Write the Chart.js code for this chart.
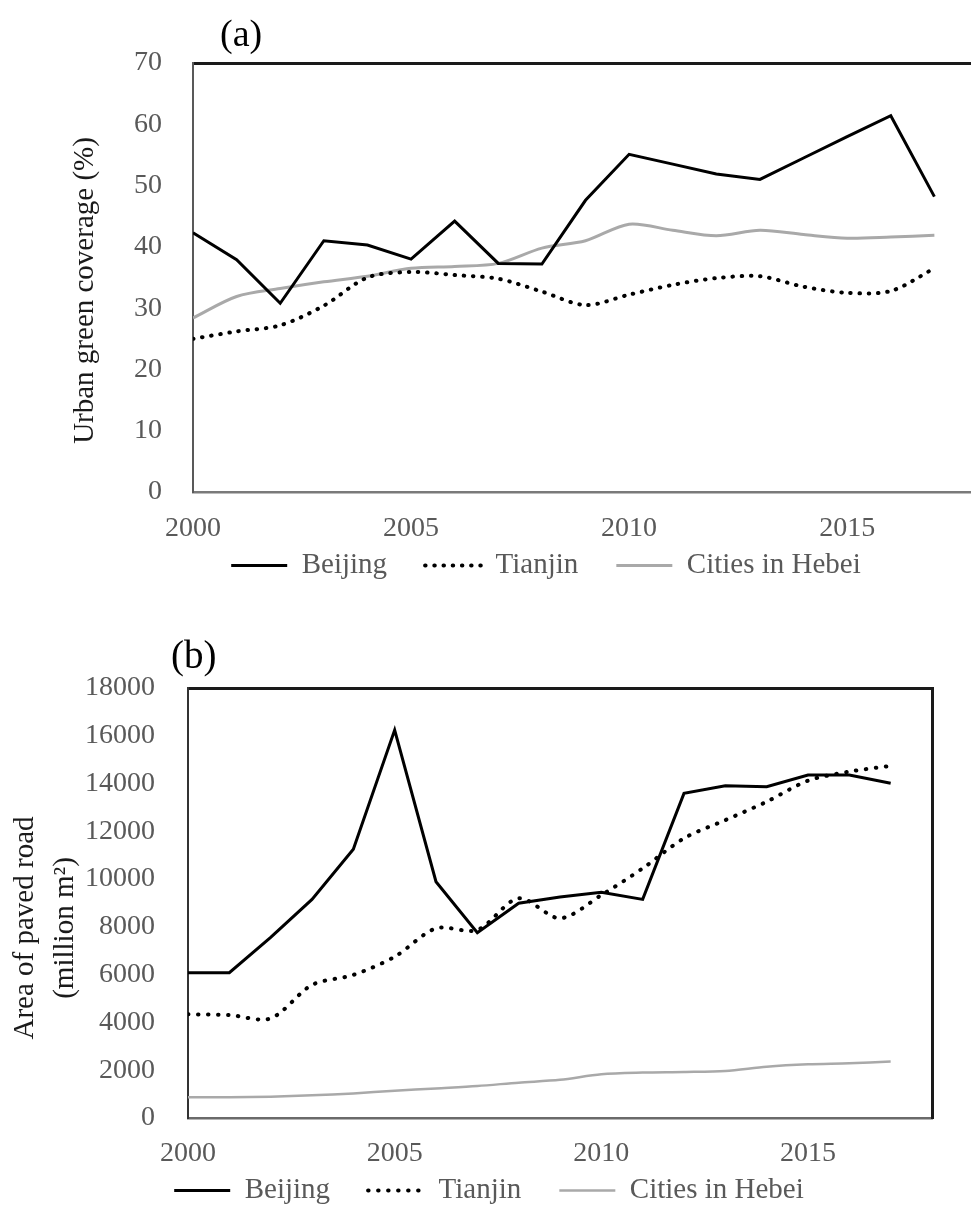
<!DOCTYPE html>
<html>
<head>
<meta charset="utf-8">
<script src="https://cdn.jsdelivr.net/npm/chart.js@4.4.1/dist/chart.umd.min.js"></script>
<style>
  html, body { margin: 0; padding: 0; background: #fff; overflow: hidden; }
  #page { position: relative; width: 971px; height: 1205px; overflow: hidden; background: #fff; }
  #chartA { position: absolute; left: 0; top: 0; }
  #chartB { position: absolute; left: 0; top: 600px; }
</style>
</head>
<body>
<div id="page">
  <canvas id="chartA" width="1092" height="624"></canvas>
  <canvas id="chartB" width="978" height="650"></canvas>
</div>
<script>
// ---- data ----
const years = [2000, 2001, 2002, 2003, 2004, 2005, 2006, 2007, 2008,
               2009, 2010, 2011, 2012, 2013, 2014, 2015, 2016, 2017];
const seriesNames = ['Beijing', 'Tianjin', 'Cities in Hebei'];

// (a) urban green coverage, %
const greenBeijing = [42.3, 37.9, 30.8, 41.0, 40.3, 38.0, 44.2, 37.3, 37.2,
                      47.6, 55.1, 53.5, 51.9, 51.0, 54.5, 58.0, 61.4, 48.2];
const greenTianjin = [25.0, 26.2, 27.2, 30.4, 35.0, 35.9, 35.4, 34.8, 32.7,
                      30.5, 32.2, 33.8, 34.9, 35.2, 33.5, 32.5, 32.8, 36.5];
const greenHebei   = [28.4, 31.9, 33.2, 34.3, 35.2, 36.5, 36.8, 37.3, 39.8,
                      41.0, 43.7, 42.7, 41.8, 42.7, 42.0, 41.4, 41.6, 41.9];

// (b) area of paved road, million m2
const roadBeijing = [6080, 6080, 7560, 9150, 11250, 16240, 9890, 7760, 8990,
                     9250, 9450, 9150, 13590, 13910, 13870, 14360, 14360, 14010];
const roadTianjin = [4340, 4310, 4170, 5570, 5990, 6750, 7940, 7870, 9200,
                     8360, 9330, 10450, 11710, 12470, 13240, 14120, 14500, 14740];
const roadHebei   = [865, 865, 890, 950, 1030, 1140, 1240, 1340, 1480,
                     1600, 1830, 1900, 1925, 1970, 2150, 2250, 2290, 2360];

// axis ranges and tick steps
const yearRange = [2000, 2018];
const yearStep = 5;
const greenRange = [0, 70];
const greenStep = 10;
const roadRange = [0, 18000];
const roadStep = 2000;

// captions
const panelTags = ['(a)', '(b)'];
const greenTitle = ['Urban green coverage (%)'];
const roadTitle = ['Area of paved road', '(million m\u00B2)'];

// ---- drawing ----
const FONT = "'Liberation Serif', 'Times New Roman', serif";
const TICK_GREY = '#595959';

const pairs = (vals) => years.map((y, i) => ({ x: y, y: vals[i] }));

// panel tag and rotated y-axis caption, placed relative to the plot area;
// the legend row is also lifted a little closer to the year labels
function decorations(spec) {
  return {
    id: 'decorations',
    afterLayout(chart) {
      const l = chart.legend;
      if (l) { l.top += spec.legendLift; l.bottom += spec.legendLift; }
    },
    afterDraw(chart) {
      const { ctx, chartArea: a } = chart;
      ctx.save();
      ctx.font = `${spec.tagSize}px ${FONT}`;
      ctx.fillStyle = '#000';
      ctx.textAlign = 'left';
      ctx.textBaseline = 'alphabetic';
      ctx.fillText(spec.tag, a.left + spec.tagDx, a.top + spec.tagDy);

      ctx.font = `${spec.titleSize}px ${FONT}`;
      ctx.fillStyle = '#1a1a1a';
      ctx.textAlign = 'center';
      ctx.textBaseline = 'middle';
      ctx.translate(a.left + spec.titleDx, (a.top + a.bottom) / 2 + spec.titleDy);
      ctx.rotate(-Math.PI / 2);
      spec.title.forEach((line, i) => ctx.fillText(line, 0, i * spec.titleGap));
      ctx.restore();
    }
  };
}

function lineSets(b, t, h, hebeiWidth, dotGap) {
  return [
    { label: seriesNames[0], data: pairs(b), borderColor: '#000', backgroundColor: '#000',
      borderWidth: 3, tension: 0, pointRadius: 0, xAxisID: 'x', yAxisID: 'y' },
    { label: seriesNames[1], data: pairs(t), borderColor: '#000', backgroundColor: '#000',
      borderWidth: 4, borderDash: [0.5, dotGap], borderCapStyle: 'round',
      tension: 0.3, pointRadius: 0, xAxisID: 'x', yAxisID: 'y' },
    { label: seriesNames[2], data: pairs(h), borderColor: '#a9a9a9', backgroundColor: '#a9a9a9',
      borderWidth: hebeiWidth, tension: 0.3, pointRadius: 0, xAxisID: 'x', yAxisID: 'y' }
  ];
}

// legend entries carry each series' own stroke (dash, cap, width)
function legendItems(chart) {
  const items = Chart.defaults.plugins.legend.labels.generateLabels(chart);
  return items.map((item) => {
    const ds = chart.data.datasets[item.datasetIndex];
    item.lineDash = ds.borderDash || [];
    item.lineCap = ds.borderCapStyle || 'butt';
    item.lineWidth = ds.borderWidth;
    item.strokeStyle = ds.borderColor;
    return item;
  });
}

function makeOptions(p) {
  const frame = (pos, axisFit) => ({
    type: 'linear', position: pos,
    min: pos === 'top' ? yearRange[0] : p.yRange[0],
    max: pos === 'top' ? yearRange[1] : p.yRange[1],
    ticks: { display: false },
    grid: { display: false, drawTicks: false },
    border: { display: true, color: '#1a1a1a', width: 3 },
    afterFit: axisFit
  });
  return {
    responsive: false,
    animation: false,
    layout: { padding: { left: 0, right: 0, top: p.padTop, bottom: 0 } },
    plugins: {
      legend: {
        position: 'bottom',
        labels: {
          usePointStyle: true, pointStyle: 'line', pointStyleWidth: 56,
          padding: 38, color: TICK_GREY, font: { family: FONT, size: 29 },
          generateLabels: legendItems
        }
      },
      tooltip: { enabled: false }
    },
    scales: {
      x: {
        type: 'linear', position: 'bottom', min: yearRange[0], max: yearRange[1],
        ticks: { stepSize: yearStep, includeBounds: false, autoSkip: false, maxRotation: 0,
                 padding: p.xPad, color: TICK_GREY, font: { family: FONT, size: 28 },
                 callback: (v) => String(v) },
        grid: { display: false, drawTicks: false },
        border: { display: true, color: p.bottomColor, width: 2.5 },
        afterFit: (s) => { s.height = 55; }
      },
      xTop: frame('top', (s) => { s.height = 0; }),
      y: {
        type: 'linear', position: 'left', min: p.yRange[0], max: p.yRange[1],
        ticks: { stepSize: p.yStep, autoSkip: false, padding: p.yPad, color: TICK_GREY,
                 font: { family: FONT, size: 28 }, callback: (v) => String(v) },
        grid: { display: false, drawTicks: false },
        border: { display: true, color: p.leftColor, width: 2 },
        afterFit: (s) => { s.width = p.leftW; }
      },
      yRight: frame('right', (s) => { s.width = p.rightW; })
    }
  };
}

new Chart(document.getElementById('chartA'), {
  type: 'line',
  data: { datasets: lineSets(greenBeijing, greenTianjin, greenHebei, 3, 8.7) },
  options: makeOptions({
    yRange: greenRange, yStep: greenStep, padTop: 63,
    xPad: 20, yPad: 31, leftW: 193, rightW: 114,
    leftColor: '#595959', bottomColor: '#7a7a7a'
  }),
  plugins: [decorations({
    legendLift: -34, tag: panelTags[0], tagSize: 38, tagDx: 27, tagDy: -16.6,
    title: greenTitle, titleSize: 29, titleGap: 40, titleDx: -108, titleDy: 13
  })]
});

new Chart(document.getElementById('chartB'), {
  type: 'line',
  data: { datasets: lineSets(roadBeijing, roadTianjin, roadHebei, 2.5, 9.5) },
  options: makeOptions({
    yRange: roadRange, yStep: roadStep, padTop: 88,
    xPad: 19, yPad: 33, leftW: 188, rightW: 46,
    leftColor: '#333', bottomColor: '#6a6a6a'
  }),
  plugins: [decorations({
    legendLift: -35, tag: panelTags[1], tagSize: 39, tagDx: -17, tagDy: -20,
    title: roadTitle, titleSize: 29, titleGap: 40, titleDx: -163, titleDy: 25
  })]
});
</script>
</body>
</html>
